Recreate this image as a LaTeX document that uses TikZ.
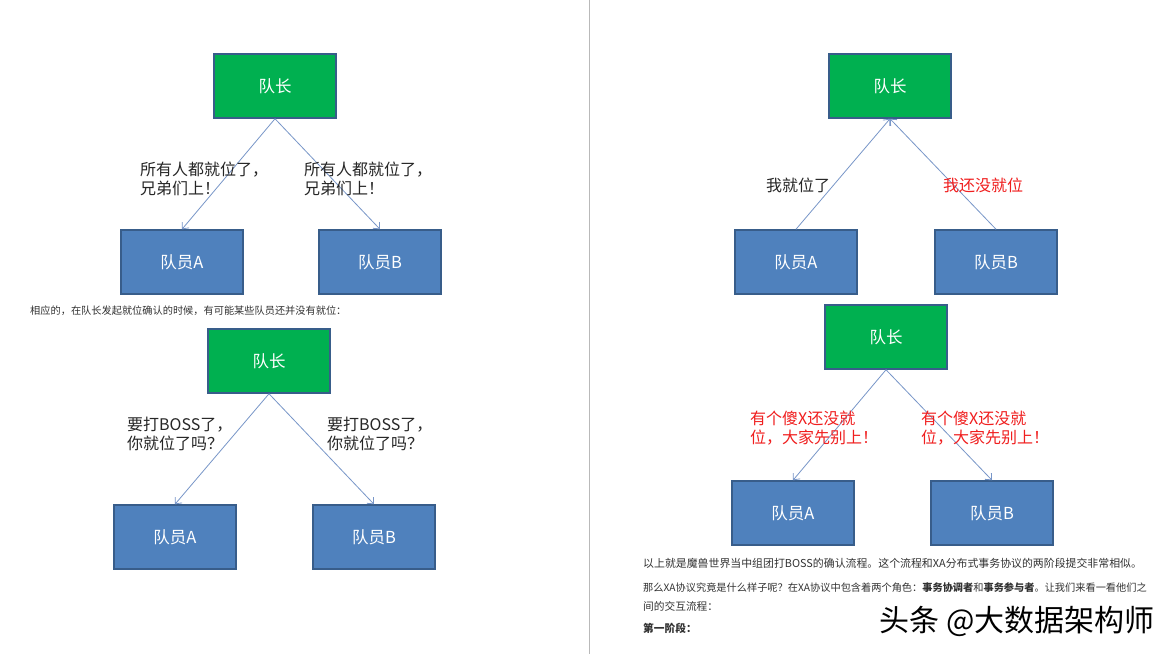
\documentclass[tikz,border=0pt]{standalone}
\usepackage{fontspec}
\usetikzlibrary{arrows.meta}
\setmainfont{Noto Sans CJK SC}
\definecolor{leadergreen}{RGB}{0,176,80}
\definecolor{memberblue}{RGB}{79,129,189}
\definecolor{boxline}{RGB}{56,93,138}
\definecolor{linkblue}{RGB}{120,150,200}
\definecolor{alarmred}{RGB}{240,30,30}
\definecolor{bodygray}{RGB}{50,50,50}

\begin{document}
\begin{tikzpicture}[>={Straight Barb[length=5pt,width=9pt]},x=1pt,y=-1pt]
\tikzstyle{leader}=[draw=boxline,fill=leadergreen,line width=1.5pt,minimum width=122pt,minimum height=64pt,text=white,font=\fontsize{16.5}{19}\selectfont]%
\tikzstyle{member}=[leader,fill=memberblue]%
\tikzstyle{link}=[draw=linkblue,line width=0.8pt,->]%
\tikzstyle{talk}=[anchor=west,inner sep=0pt,align=left,text=black!85,font=\fontsize{16}{19}\selectfont]%
\tikzstyle{prose}=[anchor=west,inner sep=0pt,text=bodygray,font=\fontsize{10.7}{12}\selectfont]%
\useasboundingbox[fill=white] (0,0) rectangle (1173,654);
% page divider
\draw[gray!55,line width=1pt] (589,0) -- (589,654);
% left page, all ready
\node[leader] (lead1) at (275,86) {队长};
\node[member] (a1) at (182,262) {队员A};
\node[member] (b1) at (380,262) {队员B};
\draw[link] (lead1.south) -- (a1.north);
\draw[link] (lead1.south) -- (b1.north);
\node[talk] (say1a) at (140,179) {所有人都就位了，\\兄弟们上！};
\node[talk] (say1b) at (304,179) {所有人都就位了，\\兄弟们上！};
\node[prose,font=\fontsize{10.2}{12}\selectfont] (note1) at (30,311) {相应的，在队长发起就位确认的时候，有可能某些队员还并没有就位：};
% left page, asking
\node[leader] (lead2) at (269,361) {队长};
\node[member] (a2) at (175,537) {队员A};
\node[member] (b2) at (374,537) {队员B};
\draw[link] (lead2.south) -- (a2.north);
\draw[link] (lead2.south) -- (b2.north);
\node[talk] (say2a) at (127,434) {要打BOSS了，\\你就位了吗？};
\node[talk] (say2b) at (327,434) {要打BOSS了，\\你就位了吗？};
% right page, answers
\node[leader] (lead3) at (890,86) {队长};
\node[member] (a3) at (796,262) {队员A};
\node[member] (b3) at (996,262) {队员B};
\draw[link] (a3.north) -- (lead3.south);
\draw[link] (b3.north) -- (lead3.south);
\node[talk] (say3a) at (766,185) {我就位了};
\node[talk,text=alarmred] (say3b) at (943,185) {我还没就位};
% right page, abort
\node[leader] (lead4) at (886,337) {队长};
\node[member] (a4) at (793,513) {队员A};
\node[member] (b4) at (992,513) {队员B};
\draw[link] (lead4.south) -- (a4.north);
\draw[link] (lead4.south) -- (b4.north);
\node[talk,text=alarmred] (say4a) at (750,428) {有个傻X还没就\\位，大家先别上！};
\node[talk,text=alarmred] (say4b) at (921,428) {有个傻X还没就\\位，大家先别上！};
% text below
\node[prose,font=\fontsize{10.9}{12}\selectfont] (line1) at (643,563) {以上就是魔兽世界当中组团打BOSS的确认流程。这个流程和XA分布式事务协议的两阶段提交非常相似。};
\node[prose,font=\fontsize{10.2}{12}\selectfont] (line2) at (643,588) {那么XA协议究竟是什么样子呢？在XA协议中包含着两个角色：\textbf{事务协调者}和\textbf{事务参与者}。让我们来看一看他们之};
\node[prose] (line3) at (643,606) {间的交互流程：};
\node[prose] (line4) at (643,628) {\textbf{第一阶段：}};
% watermark
\node[anchor=center,inner sep=0pt,font=\fontsize{30}{32}\selectfont] (mark) at (1017,621) {头条 @大数据架构师};
\end{tikzpicture}
\end{document}
